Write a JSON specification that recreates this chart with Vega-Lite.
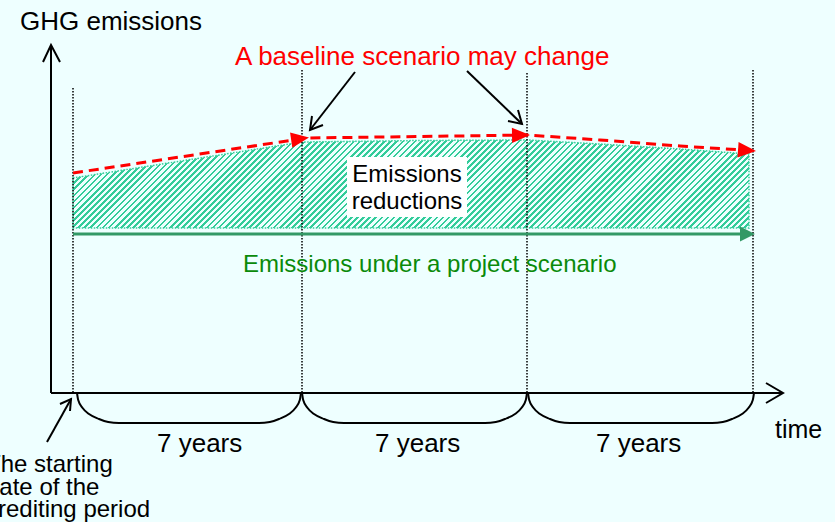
{
  "$schema": "https://vega.github.io/schema/vega-lite/v6.json",
  "width": 835,
  "height": 522,
  "padding": 0,
  "autosize": {"type": "none"},
  "background": "#EEFFFF",
  "config": {"view": {"stroke": null}},
  "datasets": {
    "area": [
      {"x": 73, "y": 178, "y2": 228},
      {"x": 302, "y": 142, "y2": 228},
      {"x": 420, "y": 140.5, "y2": 228},
      {"x": 527, "y": 140, "y2": 228},
      {"x": 600, "y": 144, "y2": 228},
      {"x": 680, "y": 149, "y2": 228},
      {"x": 749, "y": 154, "y2": 228}
    ],
    "dotted": [
      {"x": 73, "y": 88, "y2": 393},
      {"x": 302, "y": 70, "y2": 393},
      {"x": 527, "y": 73, "y2": 393},
      {"x": 753, "y": 70, "y2": 393}
    ],
    "box": [{"x": 347, "x2": 467, "y": 157, "y2": 217}],
    "project": [{"x": 73, "x2": 742, "y": 234}],
    "baseline": [
      {"i": 0, "x": 73, "y": 173},
      {"i": 1, "x": 307, "y": 138},
      {"i": 2, "x": 420, "y": 136.5},
      {"i": 3, "x": 528, "y": 135},
      {"i": 4, "x": 600, "y": 140},
      {"i": 5, "x": 680, "y": 146},
      {"i": 6, "x": 750, "y": 150.5}
    ],
    "blk": [
      {"g": "ya", "i": 0, "x": 51, "y": 393},
      {"g": "ya", "i": 1, "x": 51, "y": 45},
      {"g": "xa", "i": 0, "x": 51, "y": 393},
      {"g": "xa", "i": 1, "x": 783, "y": 393},
      {"g": "yah", "i": 0, "x": 43, "y": 62},
      {"g": "yah", "i": 1, "x": 51, "y": 45},
      {"g": "yah", "i": 2, "x": 60, "y": 62},
      {"g": "xah", "i": 0, "x": 766, "y": 383},
      {"g": "xah", "i": 1, "x": 783, "y": 393},
      {"g": "xah", "i": 2, "x": 766, "y": 403},
      {"g": "a1", "i": 0, "x": 355, "y": 72},
      {"g": "a1", "i": 1, "x": 310, "y": 130},
      {"g": "a1h", "i": 0, "x": 312, "y": 116},
      {"g": "a1h", "i": 1, "x": 310, "y": 130},
      {"g": "a1h", "i": 2, "x": 323, "y": 125},
      {"g": "a2", "i": 0, "x": 467, "y": 71},
      {"g": "a2", "i": 1, "x": 522, "y": 124},
      {"g": "a2h", "i": 0, "x": 518, "y": 110},
      {"g": "a2h", "i": 1, "x": 522, "y": 124},
      {"g": "a2h", "i": 2, "x": 508, "y": 121},
      {"g": "a3", "i": 0, "x": 47, "y": 442},
      {"g": "a3", "i": 1, "x": 71, "y": 399},
      {"g": "a3h", "i": 0, "x": 70, "y": 411},
      {"g": "a3h", "i": 1, "x": 71, "y": 399},
      {"g": "a3h", "i": 2, "x": 60, "y": 404}
    ],
    "brace": [
      {"g": "b1", "i": 0, "x": 77, "y": 393},
      {"g": "b1", "i": 1, "x": 78.2, "y": 400},
      {"g": "b1", "i": 2, "x": 82.6, "y": 408},
      {"g": "b1", "i": 3, "x": 89, "y": 414},
      {"g": "b1", "i": 4, "x": 99, "y": 419},
      {"g": "b1", "i": 5, "x": 108.2, "y": 422},
      {"g": "b1", "i": 6, "x": 119, "y": 423},
      {"g": "b1", "i": 7, "x": 259, "y": 423},
      {"g": "b1", "i": 8, "x": 269.8, "y": 422},
      {"g": "b1", "i": 9, "x": 279, "y": 419},
      {"g": "b1", "i": 10, "x": 289, "y": 414},
      {"g": "b1", "i": 11, "x": 295.4, "y": 408},
      {"g": "b1", "i": 12, "x": 299.8, "y": 400},
      {"g": "b1", "i": 13, "x": 301, "y": 393},
      {"g": "b2", "i": 0, "x": 302, "y": 393},
      {"g": "b2", "i": 1, "x": 303.2, "y": 400},
      {"g": "b2", "i": 2, "x": 307.6, "y": 408},
      {"g": "b2", "i": 3, "x": 314, "y": 414},
      {"g": "b2", "i": 4, "x": 324, "y": 419},
      {"g": "b2", "i": 5, "x": 333.2, "y": 422},
      {"g": "b2", "i": 6, "x": 344, "y": 423},
      {"g": "b2", "i": 7, "x": 485, "y": 423},
      {"g": "b2", "i": 8, "x": 495.8, "y": 422},
      {"g": "b2", "i": 9, "x": 505, "y": 419},
      {"g": "b2", "i": 10, "x": 515, "y": 414},
      {"g": "b2", "i": 11, "x": 521.4, "y": 408},
      {"g": "b2", "i": 12, "x": 525.8, "y": 400},
      {"g": "b2", "i": 13, "x": 527, "y": 393},
      {"g": "b3", "i": 0, "x": 528, "y": 393},
      {"g": "b3", "i": 1, "x": 529.2, "y": 400},
      {"g": "b3", "i": 2, "x": 533.6, "y": 408},
      {"g": "b3", "i": 3, "x": 540, "y": 414},
      {"g": "b3", "i": 4, "x": 550, "y": 419},
      {"g": "b3", "i": 5, "x": 559.2, "y": 422},
      {"g": "b3", "i": 6, "x": 570, "y": 423},
      {"g": "b3", "i": 7, "x": 712, "y": 423},
      {"g": "b3", "i": 8, "x": 722.8, "y": 422},
      {"g": "b3", "i": 9, "x": 732, "y": 419},
      {"g": "b3", "i": 10, "x": 742, "y": 414},
      {"g": "b3", "i": 11, "x": 748.4, "y": 408},
      {"g": "b3", "i": 12, "x": 752.8, "y": 400},
      {"g": "b3", "i": 13, "x": 754, "y": 393}
    ],
    "t26": [
      {"x": 20, "y": 30, "t": "GHG emissions"},
      {"x": 157, "y": 452, "t": "7 years"},
      {"x": 375, "y": 452, "t": "7 years"},
      {"x": 596, "y": 452, "t": "7 years"}
    ],
    "tRed": [{"x": 235, "y": 65, "t": "A baseline scenario may change"}],
    "tGreen": [{"x": 243, "y": 272, "t": "Emissions under a project scenario"}],
    "tCenter": [
      {"x": 407, "y": 182, "t": "Emissions"},
      {"x": 407, "y": 209, "t": "reductions"}
    ],
    "tTime": [{"x": 775, "y": 438, "t": "time"}],
    "tStart": [
      {"x": -14, "y": 472, "t": "The starting"},
      {"x": -14, "y": 494.5, "t": "date of the"},
      {"x": -14, "y": 517, "t": "crediting period"}
    ]
  },
  "encoding": {
    "x": {"field": "x", "type": "quantitative", "scale": {"domain": [0, 835], "nice": false, "zero": false}, "axis": null},
    "y": {"field": "y", "type": "quantitative", "scale": {"domain": [0, 522], "reverse": true, "nice": false, "zero": false}, "axis": null}
  },
  "layer": [
    {
      "data": {"name": "area"},
      "mark": {"type": "area", "orient": "vertical", "stroke": "#33CC99", "strokeWidth": 1.5, "strokeDash": [1.5, 1.5],
        "fill": {"gradient": "linear", "x1": 0, "y1": 0, "x2": 1.1114, "y2": 0.1447, "stops": [
{"offset":0,"color":"#3c9"},{"offset":0.0035,"color":"#3c9"},{"offset":0.0035,"color":"#eff"},{"offset":0.008,"color":"#eff"},
{"offset":0.008,"color":"#3c9"},{"offset":0.0115,"color":"#3c9"},{"offset":0.0115,"color":"#eff"},{"offset":0.016,"color":"#eff"},
{"offset":0.016,"color":"#3c9"},{"offset":0.0195,"color":"#3c9"},{"offset":0.0195,"color":"#eff"},{"offset":0.024,"color":"#eff"},
{"offset":0.024,"color":"#3c9"},{"offset":0.0275,"color":"#3c9"},{"offset":0.0275,"color":"#eff"},{"offset":0.032,"color":"#eff"},
{"offset":0.032,"color":"#3c9"},{"offset":0.0355,"color":"#3c9"},{"offset":0.0355,"color":"#eff"},{"offset":0.04,"color":"#eff"},
{"offset":0.04,"color":"#3c9"},{"offset":0.0435,"color":"#3c9"},{"offset":0.0435,"color":"#eff"},{"offset":0.048,"color":"#eff"},
{"offset":0.048,"color":"#3c9"},{"offset":0.0515,"color":"#3c9"},{"offset":0.0515,"color":"#eff"},{"offset":0.056,"color":"#eff"},
{"offset":0.056,"color":"#3c9"},{"offset":0.0595,"color":"#3c9"},{"offset":0.0595,"color":"#eff"},{"offset":0.064,"color":"#eff"},
{"offset":0.064,"color":"#3c9"},{"offset":0.0675,"color":"#3c9"},{"offset":0.0675,"color":"#eff"},{"offset":0.072,"color":"#eff"},
{"offset":0.072,"color":"#3c9"},{"offset":0.0755,"color":"#3c9"},{"offset":0.0755,"color":"#eff"},{"offset":0.08,"color":"#eff"},
{"offset":0.08,"color":"#3c9"},{"offset":0.0835,"color":"#3c9"},{"offset":0.0835,"color":"#eff"},{"offset":0.088,"color":"#eff"},
{"offset":0.088,"color":"#3c9"},{"offset":0.0915,"color":"#3c9"},{"offset":0.0915,"color":"#eff"},{"offset":0.096,"color":"#eff"},
{"offset":0.096,"color":"#3c9"},{"offset":0.0995,"color":"#3c9"},{"offset":0.0995,"color":"#eff"},{"offset":0.104,"color":"#eff"},
{"offset":0.104,"color":"#3c9"},{"offset":0.1075,"color":"#3c9"},{"offset":0.1075,"color":"#eff"},{"offset":0.112,"color":"#eff"},
{"offset":0.112,"color":"#3c9"},{"offset":0.1155,"color":"#3c9"},{"offset":0.1155,"color":"#eff"},{"offset":0.12,"color":"#eff"},
{"offset":0.12,"color":"#3c9"},{"offset":0.1235,"color":"#3c9"},{"offset":0.1235,"color":"#eff"},{"offset":0.128,"color":"#eff"},
{"offset":0.128,"color":"#3c9"},{"offset":0.1315,"color":"#3c9"},{"offset":0.1315,"color":"#eff"},{"offset":0.136,"color":"#eff"},
{"offset":0.136,"color":"#3c9"},{"offset":0.1395,"color":"#3c9"},{"offset":0.1395,"color":"#eff"},{"offset":0.144,"color":"#eff"},
{"offset":0.144,"color":"#3c9"},{"offset":0.1475,"color":"#3c9"},{"offset":0.1475,"color":"#eff"},{"offset":0.152,"color":"#eff"},
{"offset":0.152,"color":"#3c9"},{"offset":0.1555,"color":"#3c9"},{"offset":0.1555,"color":"#eff"},{"offset":0.16,"color":"#eff"},
{"offset":0.16,"color":"#3c9"},{"offset":0.1635,"color":"#3c9"},{"offset":0.1635,"color":"#eff"},{"offset":0.168,"color":"#eff"},
{"offset":0.168,"color":"#3c9"},{"offset":0.1715,"color":"#3c9"},{"offset":0.1715,"color":"#eff"},{"offset":0.176,"color":"#eff"},
{"offset":0.176,"color":"#3c9"},{"offset":0.1795,"color":"#3c9"},{"offset":0.1795,"color":"#eff"},{"offset":0.184,"color":"#eff"},
{"offset":0.184,"color":"#3c9"},{"offset":0.1875,"color":"#3c9"},{"offset":0.1875,"color":"#eff"},{"offset":0.192,"color":"#eff"},
{"offset":0.192,"color":"#3c9"},{"offset":0.1955,"color":"#3c9"},{"offset":0.1955,"color":"#eff"},{"offset":0.2,"color":"#eff"},
{"offset":0.2,"color":"#3c9"},{"offset":0.2035,"color":"#3c9"},{"offset":0.2035,"color":"#eff"},{"offset":0.208,"color":"#eff"},
{"offset":0.208,"color":"#3c9"},{"offset":0.2115,"color":"#3c9"},{"offset":0.2115,"color":"#eff"},{"offset":0.216,"color":"#eff"},
{"offset":0.216,"color":"#3c9"},{"offset":0.2195,"color":"#3c9"},{"offset":0.2195,"color":"#eff"},{"offset":0.224,"color":"#eff"},
{"offset":0.224,"color":"#3c9"},{"offset":0.2275,"color":"#3c9"},{"offset":0.2275,"color":"#eff"},{"offset":0.232,"color":"#eff"},
{"offset":0.232,"color":"#3c9"},{"offset":0.2355,"color":"#3c9"},{"offset":0.2355,"color":"#eff"},{"offset":0.24,"color":"#eff"},
{"offset":0.24,"color":"#3c9"},{"offset":0.2435,"color":"#3c9"},{"offset":0.2435,"color":"#eff"},{"offset":0.248,"color":"#eff"},
{"offset":0.248,"color":"#3c9"},{"offset":0.2515,"color":"#3c9"},{"offset":0.2515,"color":"#eff"},{"offset":0.256,"color":"#eff"},
{"offset":0.256,"color":"#3c9"},{"offset":0.2595,"color":"#3c9"},{"offset":0.2595,"color":"#eff"},{"offset":0.264,"color":"#eff"},
{"offset":0.264,"color":"#3c9"},{"offset":0.2675,"color":"#3c9"},{"offset":0.2675,"color":"#eff"},{"offset":0.272,"color":"#eff"},
{"offset":0.272,"color":"#3c9"},{"offset":0.2755,"color":"#3c9"},{"offset":0.2755,"color":"#eff"},{"offset":0.28,"color":"#eff"},
{"offset":0.28,"color":"#3c9"},{"offset":0.2835,"color":"#3c9"},{"offset":0.2835,"color":"#eff"},{"offset":0.288,"color":"#eff"},
{"offset":0.288,"color":"#3c9"},{"offset":0.2915,"color":"#3c9"},{"offset":0.2915,"color":"#eff"},{"offset":0.296,"color":"#eff"},
{"offset":0.296,"color":"#3c9"},{"offset":0.2995,"color":"#3c9"},{"offset":0.2995,"color":"#eff"},{"offset":0.304,"color":"#eff"},
{"offset":0.304,"color":"#3c9"},{"offset":0.3075,"color":"#3c9"},{"offset":0.3075,"color":"#eff"},{"offset":0.312,"color":"#eff"},
{"offset":0.312,"color":"#3c9"},{"offset":0.3155,"color":"#3c9"},{"offset":0.3155,"color":"#eff"},{"offset":0.32,"color":"#eff"},
{"offset":0.32,"color":"#3c9"},{"offset":0.3235,"color":"#3c9"},{"offset":0.3235,"color":"#eff"},{"offset":0.328,"color":"#eff"},
{"offset":0.328,"color":"#3c9"},{"offset":0.3315,"color":"#3c9"},{"offset":0.3315,"color":"#eff"},{"offset":0.336,"color":"#eff"},
{"offset":0.336,"color":"#3c9"},{"offset":0.3395,"color":"#3c9"},{"offset":0.3395,"color":"#eff"},{"offset":0.344,"color":"#eff"},
{"offset":0.344,"color":"#3c9"},{"offset":0.3475,"color":"#3c9"},{"offset":0.3475,"color":"#eff"},{"offset":0.352,"color":"#eff"},
{"offset":0.352,"color":"#3c9"},{"offset":0.3555,"color":"#3c9"},{"offset":0.3555,"color":"#eff"},{"offset":0.36,"color":"#eff"},
{"offset":0.36,"color":"#3c9"},{"offset":0.3635,"color":"#3c9"},{"offset":0.3635,"color":"#eff"},{"offset":0.368,"color":"#eff"},
{"offset":0.368,"color":"#3c9"},{"offset":0.3715,"color":"#3c9"},{"offset":0.3715,"color":"#eff"},{"offset":0.376,"color":"#eff"},
{"offset":0.376,"color":"#3c9"},{"offset":0.3795,"color":"#3c9"},{"offset":0.3795,"color":"#eff"},{"offset":0.384,"color":"#eff"},
{"offset":0.384,"color":"#3c9"},{"offset":0.3875,"color":"#3c9"},{"offset":0.3875,"color":"#eff"},{"offset":0.392,"color":"#eff"},
{"offset":0.392,"color":"#3c9"},{"offset":0.3955,"color":"#3c9"},{"offset":0.3955,"color":"#eff"},{"offset":0.4,"color":"#eff"},
{"offset":0.4,"color":"#3c9"},{"offset":0.4035,"color":"#3c9"},{"offset":0.4035,"color":"#eff"},{"offset":0.408,"color":"#eff"},
{"offset":0.408,"color":"#3c9"},{"offset":0.4115,"color":"#3c9"},{"offset":0.4115,"color":"#eff"},{"offset":0.416,"color":"#eff"},
{"offset":0.416,"color":"#3c9"},{"offset":0.4195,"color":"#3c9"},{"offset":0.4195,"color":"#eff"},{"offset":0.424,"color":"#eff"},
{"offset":0.424,"color":"#3c9"},{"offset":0.4275,"color":"#3c9"},{"offset":0.4275,"color":"#eff"},{"offset":0.432,"color":"#eff"},
{"offset":0.432,"color":"#3c9"},{"offset":0.4355,"color":"#3c9"},{"offset":0.4355,"color":"#eff"},{"offset":0.44,"color":"#eff"},
{"offset":0.44,"color":"#3c9"},{"offset":0.4435,"color":"#3c9"},{"offset":0.4435,"color":"#eff"},{"offset":0.448,"color":"#eff"},
{"offset":0.448,"color":"#3c9"},{"offset":0.4515,"color":"#3c9"},{"offset":0.4515,"color":"#eff"},{"offset":0.456,"color":"#eff"},
{"offset":0.456,"color":"#3c9"},{"offset":0.4595,"color":"#3c9"},{"offset":0.4595,"color":"#eff"},{"offset":0.464,"color":"#eff"},
{"offset":0.464,"color":"#3c9"},{"offset":0.4675,"color":"#3c9"},{"offset":0.4675,"color":"#eff"},{"offset":0.472,"color":"#eff"},
{"offset":0.472,"color":"#3c9"},{"offset":0.4755,"color":"#3c9"},{"offset":0.4755,"color":"#eff"},{"offset":0.48,"color":"#eff"},
{"offset":0.48,"color":"#3c9"},{"offset":0.4835,"color":"#3c9"},{"offset":0.4835,"color":"#eff"},{"offset":0.488,"color":"#eff"},
{"offset":0.488,"color":"#3c9"},{"offset":0.4915,"color":"#3c9"},{"offset":0.4915,"color":"#eff"},{"offset":0.496,"color":"#eff"},
{"offset":0.496,"color":"#3c9"},{"offset":0.4995,"color":"#3c9"},{"offset":0.4995,"color":"#eff"},{"offset":0.504,"color":"#eff"},
{"offset":0.504,"color":"#3c9"},{"offset":0.5075,"color":"#3c9"},{"offset":0.5075,"color":"#eff"},{"offset":0.512,"color":"#eff"},
{"offset":0.512,"color":"#3c9"},{"offset":0.5155,"color":"#3c9"},{"offset":0.5155,"color":"#eff"},{"offset":0.52,"color":"#eff"},
{"offset":0.52,"color":"#3c9"},{"offset":0.5235,"color":"#3c9"},{"offset":0.5235,"color":"#eff"},{"offset":0.528,"color":"#eff"},
{"offset":0.528,"color":"#3c9"},{"offset":0.5315,"color":"#3c9"},{"offset":0.5315,"color":"#eff"},{"offset":0.536,"color":"#eff"},
{"offset":0.536,"color":"#3c9"},{"offset":0.5395,"color":"#3c9"},{"offset":0.5395,"color":"#eff"},{"offset":0.544,"color":"#eff"},
{"offset":0.544,"color":"#3c9"},{"offset":0.5475,"color":"#3c9"},{"offset":0.5475,"color":"#eff"},{"offset":0.552,"color":"#eff"},
{"offset":0.552,"color":"#3c9"},{"offset":0.5555,"color":"#3c9"},{"offset":0.5555,"color":"#eff"},{"offset":0.56,"color":"#eff"},
{"offset":0.56,"color":"#3c9"},{"offset":0.5635,"color":"#3c9"},{"offset":0.5635,"color":"#eff"},{"offset":0.568,"color":"#eff"},
{"offset":0.568,"color":"#3c9"},{"offset":0.5715,"color":"#3c9"},{"offset":0.5715,"color":"#eff"},{"offset":0.576,"color":"#eff"},
{"offset":0.576,"color":"#3c9"},{"offset":0.5795,"color":"#3c9"},{"offset":0.5795,"color":"#eff"},{"offset":0.584,"color":"#eff"},
{"offset":0.584,"color":"#3c9"},{"offset":0.5875,"color":"#3c9"},{"offset":0.5875,"color":"#eff"},{"offset":0.592,"color":"#eff"},
{"offset":0.592,"color":"#3c9"},{"offset":0.5955,"color":"#3c9"},{"offset":0.5955,"color":"#eff"},{"offset":0.6,"color":"#eff"},
{"offset":0.6,"color":"#3c9"},{"offset":0.6035,"color":"#3c9"},{"offset":0.6035,"color":"#eff"},{"offset":0.608,"color":"#eff"},
{"offset":0.608,"color":"#3c9"},{"offset":0.6115,"color":"#3c9"},{"offset":0.6115,"color":"#eff"},{"offset":0.616,"color":"#eff"},
{"offset":0.616,"color":"#3c9"},{"offset":0.6195,"color":"#3c9"},{"offset":0.6195,"color":"#eff"},{"offset":0.624,"color":"#eff"},
{"offset":0.624,"color":"#3c9"},{"offset":0.6275,"color":"#3c9"},{"offset":0.6275,"color":"#eff"},{"offset":0.632,"color":"#eff"},
{"offset":0.632,"color":"#3c9"},{"offset":0.6355,"color":"#3c9"},{"offset":0.6355,"color":"#eff"},{"offset":0.64,"color":"#eff"},
{"offset":0.64,"color":"#3c9"},{"offset":0.6435,"color":"#3c9"},{"offset":0.6435,"color":"#eff"},{"offset":0.648,"color":"#eff"},
{"offset":0.648,"color":"#3c9"},{"offset":0.6515,"color":"#3c9"},{"offset":0.6515,"color":"#eff"},{"offset":0.656,"color":"#eff"},
{"offset":0.656,"color":"#3c9"},{"offset":0.6595,"color":"#3c9"},{"offset":0.6595,"color":"#eff"},{"offset":0.664,"color":"#eff"},
{"offset":0.664,"color":"#3c9"},{"offset":0.6675,"color":"#3c9"},{"offset":0.6675,"color":"#eff"},{"offset":0.672,"color":"#eff"},
{"offset":0.672,"color":"#3c9"},{"offset":0.6755,"color":"#3c9"},{"offset":0.6755,"color":"#eff"},{"offset":0.68,"color":"#eff"},
{"offset":0.68,"color":"#3c9"},{"offset":0.6835,"color":"#3c9"},{"offset":0.6835,"color":"#eff"},{"offset":0.688,"color":"#eff"},
{"offset":0.688,"color":"#3c9"},{"offset":0.6915,"color":"#3c9"},{"offset":0.6915,"color":"#eff"},{"offset":0.696,"color":"#eff"},
{"offset":0.696,"color":"#3c9"},{"offset":0.6995,"color":"#3c9"},{"offset":0.6995,"color":"#eff"},{"offset":0.704,"color":"#eff"},
{"offset":0.704,"color":"#3c9"},{"offset":0.7075,"color":"#3c9"},{"offset":0.7075,"color":"#eff"},{"offset":0.712,"color":"#eff"},
{"offset":0.712,"color":"#3c9"},{"offset":0.7155,"color":"#3c9"},{"offset":0.7155,"color":"#eff"},{"offset":0.72,"color":"#eff"},
{"offset":0.72,"color":"#3c9"},{"offset":0.7235,"color":"#3c9"},{"offset":0.7235,"color":"#eff"},{"offset":0.728,"color":"#eff"},
{"offset":0.728,"color":"#3c9"},{"offset":0.7315,"color":"#3c9"},{"offset":0.7315,"color":"#eff"},{"offset":0.736,"color":"#eff"},
{"offset":0.736,"color":"#3c9"},{"offset":0.7395,"color":"#3c9"},{"offset":0.7395,"color":"#eff"},{"offset":0.744,"color":"#eff"},
{"offset":0.744,"color":"#3c9"},{"offset":0.7475,"color":"#3c9"},{"offset":0.7475,"color":"#eff"},{"offset":0.752,"color":"#eff"},
{"offset":0.752,"color":"#3c9"},{"offset":0.7555,"color":"#3c9"},{"offset":0.7555,"color":"#eff"},{"offset":0.76,"color":"#eff"},
{"offset":0.76,"color":"#3c9"},{"offset":0.7635,"color":"#3c9"},{"offset":0.7635,"color":"#eff"},{"offset":0.768,"color":"#eff"},
{"offset":0.768,"color":"#3c9"},{"offset":0.7715,"color":"#3c9"},{"offset":0.7715,"color":"#eff"},{"offset":0.776,"color":"#eff"},
{"offset":0.776,"color":"#3c9"},{"offset":0.7795,"color":"#3c9"},{"offset":0.7795,"color":"#eff"},{"offset":0.784,"color":"#eff"},
{"offset":0.784,"color":"#3c9"},{"offset":0.7875,"color":"#3c9"},{"offset":0.7875,"color":"#eff"},{"offset":0.792,"color":"#eff"},
{"offset":0.792,"color":"#3c9"},{"offset":0.7955,"color":"#3c9"},{"offset":0.7955,"color":"#eff"},{"offset":0.8,"color":"#eff"},
{"offset":0.8,"color":"#3c9"},{"offset":0.8035,"color":"#3c9"},{"offset":0.8035,"color":"#eff"},{"offset":0.808,"color":"#eff"},
{"offset":0.808,"color":"#3c9"},{"offset":0.8115,"color":"#3c9"},{"offset":0.8115,"color":"#eff"},{"offset":0.816,"color":"#eff"},
{"offset":0.816,"color":"#3c9"},{"offset":0.8195,"color":"#3c9"},{"offset":0.8195,"color":"#eff"},{"offset":0.824,"color":"#eff"},
{"offset":0.824,"color":"#3c9"},{"offset":0.8275,"color":"#3c9"},{"offset":0.8275,"color":"#eff"},{"offset":0.832,"color":"#eff"},
{"offset":0.832,"color":"#3c9"},{"offset":0.8355,"color":"#3c9"},{"offset":0.8355,"color":"#eff"},{"offset":0.84,"color":"#eff"},
{"offset":0.84,"color":"#3c9"},{"offset":0.8435,"color":"#3c9"},{"offset":0.8435,"color":"#eff"},{"offset":0.848,"color":"#eff"},
{"offset":0.848,"color":"#3c9"},{"offset":0.8515,"color":"#3c9"},{"offset":0.8515,"color":"#eff"},{"offset":0.856,"color":"#eff"},
{"offset":0.856,"color":"#3c9"},{"offset":0.8595,"color":"#3c9"},{"offset":0.8595,"color":"#eff"},{"offset":0.864,"color":"#eff"},
{"offset":0.864,"color":"#3c9"},{"offset":0.8675,"color":"#3c9"},{"offset":0.8675,"color":"#eff"},{"offset":0.872,"color":"#eff"},
{"offset":0.872,"color":"#3c9"},{"offset":0.8755,"color":"#3c9"},{"offset":0.8755,"color":"#eff"},{"offset":0.88,"color":"#eff"},
{"offset":0.88,"color":"#3c9"},{"offset":0.8835,"color":"#3c9"},{"offset":0.8835,"color":"#eff"},{"offset":0.888,"color":"#eff"},
{"offset":0.888,"color":"#3c9"},{"offset":0.8915,"color":"#3c9"},{"offset":0.8915,"color":"#eff"},{"offset":0.896,"color":"#eff"},
{"offset":0.896,"color":"#3c9"},{"offset":0.8995,"color":"#3c9"},{"offset":0.8995,"color":"#eff"},{"offset":0.904,"color":"#eff"},
{"offset":0.904,"color":"#3c9"},{"offset":0.9075,"color":"#3c9"},{"offset":0.9075,"color":"#eff"},{"offset":0.912,"color":"#eff"},
{"offset":0.912,"color":"#3c9"},{"offset":0.9155,"color":"#3c9"},{"offset":0.9155,"color":"#eff"},{"offset":0.92,"color":"#eff"},
{"offset":0.92,"color":"#3c9"},{"offset":0.9235,"color":"#3c9"},{"offset":0.9235,"color":"#eff"},{"offset":0.928,"color":"#eff"},
{"offset":0.928,"color":"#3c9"},{"offset":0.9315,"color":"#3c9"},{"offset":0.9315,"color":"#eff"},{"offset":0.936,"color":"#eff"},
{"offset":0.936,"color":"#3c9"},{"offset":0.9395,"color":"#3c9"},{"offset":0.9395,"color":"#eff"},{"offset":0.944,"color":"#eff"},
{"offset":0.944,"color":"#3c9"},{"offset":0.9475,"color":"#3c9"},{"offset":0.9475,"color":"#eff"},{"offset":0.952,"color":"#eff"},
{"offset":0.952,"color":"#3c9"},{"offset":0.9555,"color":"#3c9"},{"offset":0.9555,"color":"#eff"},{"offset":0.96,"color":"#eff"},
{"offset":0.96,"color":"#3c9"},{"offset":0.9635,"color":"#3c9"},{"offset":0.9635,"color":"#eff"},{"offset":0.968,"color":"#eff"},
{"offset":0.968,"color":"#3c9"},{"offset":0.9715,"color":"#3c9"},{"offset":0.9715,"color":"#eff"},{"offset":0.976,"color":"#eff"},
{"offset":0.976,"color":"#3c9"},{"offset":0.9795,"color":"#3c9"},{"offset":0.9795,"color":"#eff"},{"offset":0.984,"color":"#eff"},
{"offset":0.984,"color":"#3c9"},{"offset":0.9875,"color":"#3c9"},{"offset":0.9875,"color":"#eff"},{"offset":0.992,"color":"#eff"},
{"offset":0.992,"color":"#3c9"},{"offset":0.9955,"color":"#3c9"},{"offset":0.9955,"color":"#eff"},{"offset":1,"color":"#eff"}
        ]}},
      "encoding": {"y2": {"field": "y2"}}
    },
    {
      "data": {"name": "box"},
      "mark": {"type": "rect", "fill": "#FFFFFF"},
      "encoding": {"x2": {"field": "x2"}, "y2": {"field": "y2"}}
    },
    {
      "data": {"name": "dotted"},
      "mark": {"type": "rule", "color": "#000000", "strokeWidth": 1.5, "strokeDash": [1.5, 1.5]},
      "encoding": {"y2": {"field": "y2"}}
    },
    {
      "data": {"name": "project"},
      "mark": {"type": "rule", "color": "#339966", "strokeWidth": 3},
      "encoding": {"x2": {"field": "x2"}}
    },
    {
      "data": {"values": [{"x": 755, "y": 234}]},
      "mark": {"type": "point", "shape": "M-2,-1L0,0L-2,1Z", "size": 225, "filled": true, "color": "#339966", "opacity": 1, "strokeWidth": 0},
      "encoding": {}
    },
    {
      "data": {"name": "baseline"},
      "mark": {"type": "line", "color": "#FF0000", "strokeWidth": 3, "strokeDash": [10, 6]},
      "encoding": {"order": {"field": "i"}}
    },
    {
      "data": {"values": [{"x": 309, "y": 137.5}]},
      "mark": {"type": "point", "shape": "M-2,-0.85L0,0L-2,0.85Z", "size": 324, "filled": true, "color": "#FF0000", "opacity": 1, "strokeWidth": 0, "angle": 351.5},
      "encoding": {}
    },
    {
      "data": {"values": [{"x": 530, "y": 135}]},
      "mark": {"type": "point", "shape": "M-2,-0.85L0,0L-2,0.85Z", "size": 324, "filled": true, "color": "#FF0000", "opacity": 1, "strokeWidth": 0, "angle": 359},
      "encoding": {}
    },
    {
      "data": {"values": [{"x": 756, "y": 151}]},
      "mark": {"type": "point", "shape": "M-2,-0.85L0,0L-2,0.85Z", "size": 324, "filled": true, "color": "#FF0000", "opacity": 1, "strokeWidth": 0, "angle": 4},
      "encoding": {}
    },
    {
      "data": {"name": "blk"},
      "mark": {"type": "line", "color": "#000000", "strokeWidth": 2},
      "encoding": {"detail": {"field": "g"}, "order": {"field": "i"}}
    },
    {
      "data": {"name": "brace"},
      "mark": {"type": "line", "color": "#000000", "strokeWidth": 2, "interpolate": "monotone"},
      "encoding": {"detail": {"field": "g"}, "order": {"field": "i"}}
    },
    {
      "data": {"name": "t26"},
      "mark": {"type": "text", "font": "Liberation Sans", "fontSize": 26, "align": "left", "baseline": "alphabetic", "color": "#000000"},
      "encoding": {"text": {"field": "t"}}
    },
    {
      "data": {"name": "tRed"},
      "mark": {"type": "text", "font": "Liberation Sans", "fontSize": 26, "align": "left", "baseline": "alphabetic", "color": "#FF0000"},
      "encoding": {"text": {"field": "t"}}
    },
    {
      "data": {"name": "tGreen"},
      "mark": {"type": "text", "font": "Liberation Sans", "fontSize": 24, "align": "left", "baseline": "alphabetic", "color": "#0A8A0A"},
      "encoding": {"text": {"field": "t"}}
    },
    {
      "data": {"name": "tCenter"},
      "mark": {"type": "text", "font": "Liberation Sans", "fontSize": 24, "align": "center", "baseline": "alphabetic", "color": "#000000"},
      "encoding": {"text": {"field": "t"}}
    },
    {
      "data": {"name": "tTime"},
      "mark": {"type": "text", "font": "Liberation Sans", "fontSize": 25, "align": "left", "baseline": "alphabetic", "color": "#000000"},
      "encoding": {"text": {"field": "t"}}
    },
    {
      "data": {"name": "tStart"},
      "mark": {"type": "text", "font": "Liberation Sans", "fontSize": 24, "align": "left", "baseline": "alphabetic", "color": "#000000"},
      "encoding": {"text": {"field": "t"}}
    }
  ]
}
